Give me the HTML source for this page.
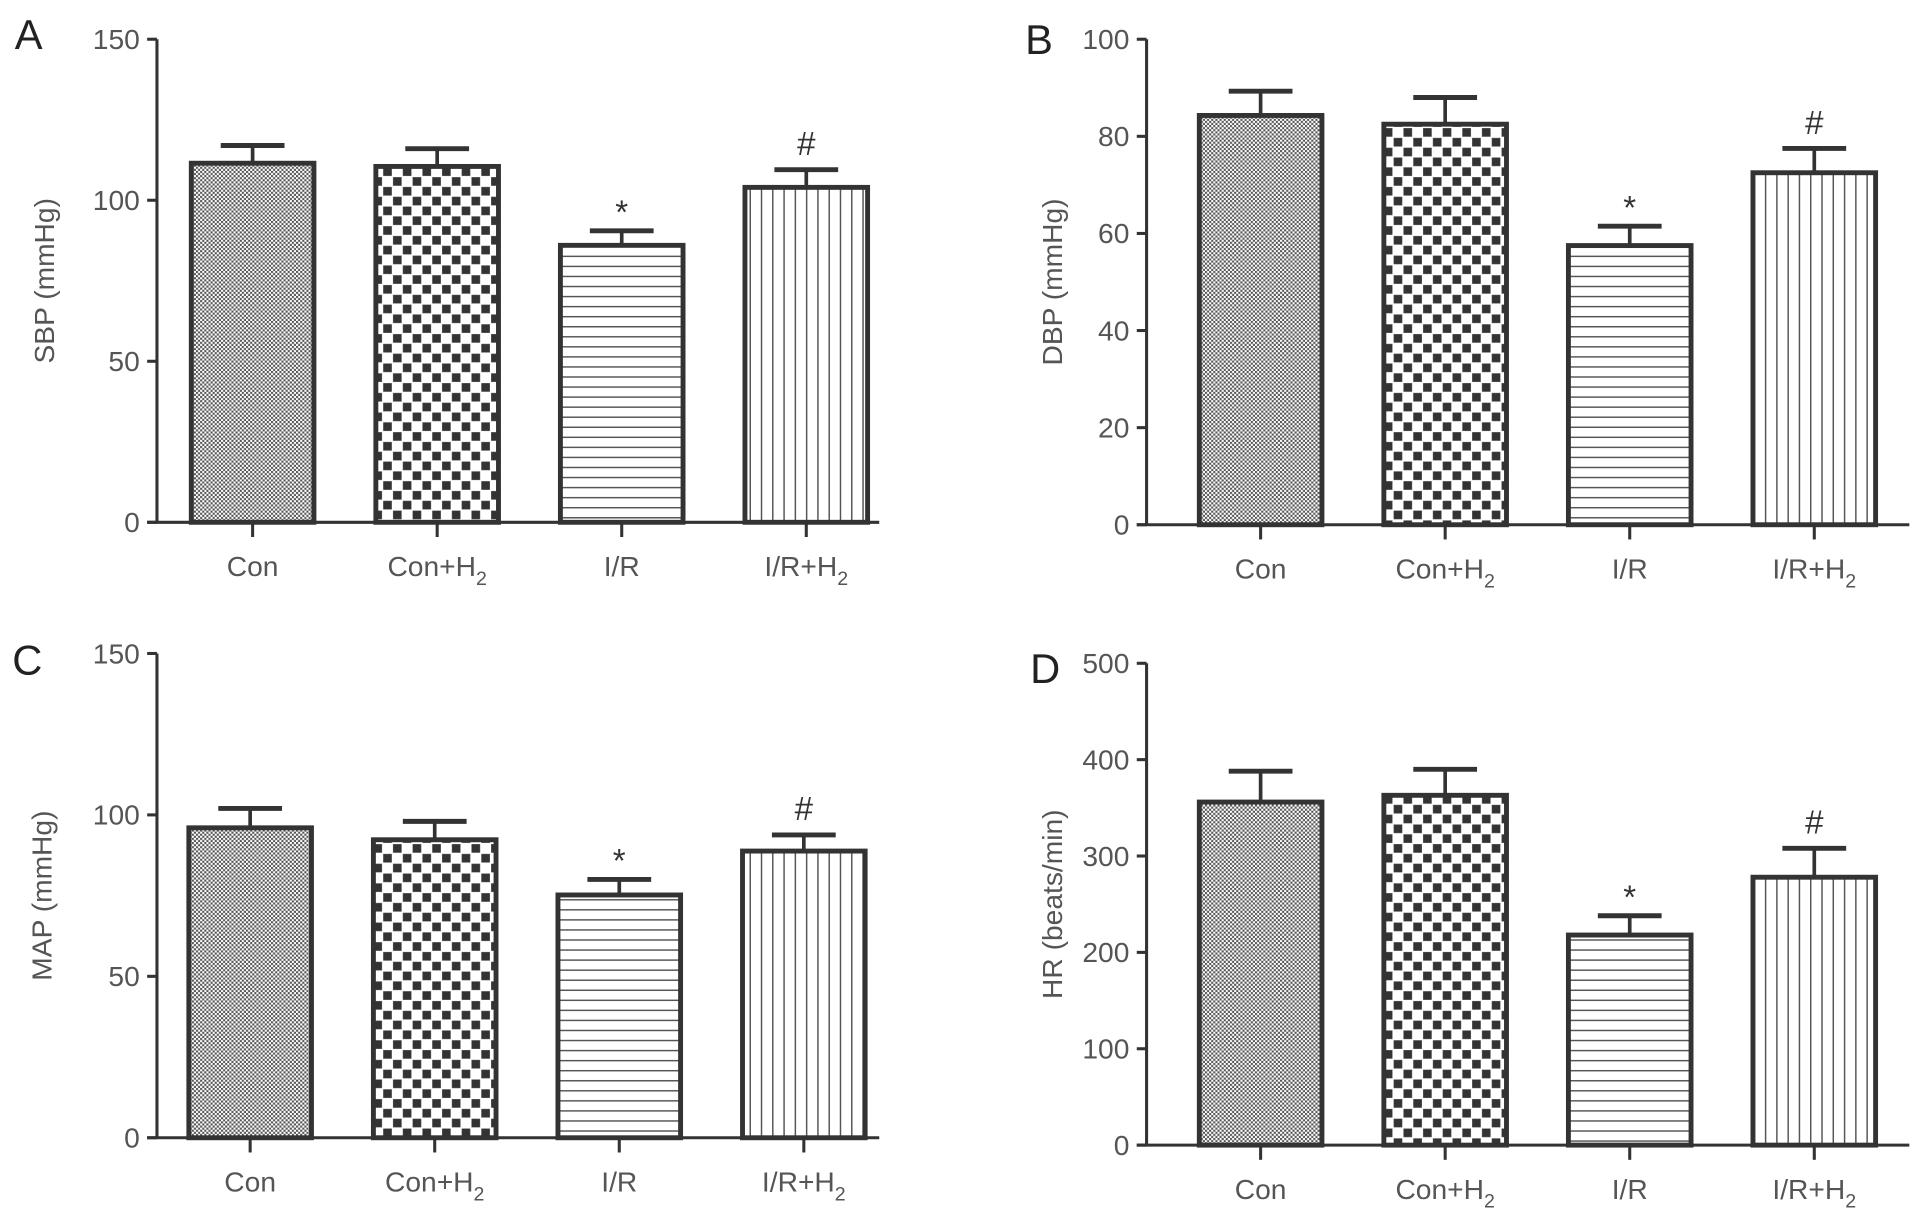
<!DOCTYPE html>
<html><head><meta charset="utf-8">
<style>
html,body{margin:0;padding:0;background:#fff;}
svg{display:block;}
text{font-family:"Liberation Sans",sans-serif;}
</style></head>
<body>
<svg id="chart" width="1913" height="1215" viewBox="0 0 1560 991" preserveAspectRatio="none" xmlns="http://www.w3.org/2000/svg">
<defs>
<pattern id="pDots" patternUnits="userSpaceOnUse" width="3.4" height="3.4">
<rect width="3.4" height="3.4" fill="#fff"/><rect x="0" y="0" width="1.7" height="1.7" fill="#555"/><rect x="1.7" y="1.7" width="1.7" height="1.7" fill="#555"/>
</pattern>
<pattern id="pCheck" patternUnits="userSpaceOnUse" width="16" height="16">
<rect width="16" height="16" fill="#fff"/><rect x="0.5" y="0.5" width="7" height="7" fill="#333"/><rect x="8.5" y="8.5" width="7" height="7" fill="#333"/>
</pattern>
<pattern id="pHoriz" patternUnits="userSpaceOnUse" width="8" height="8.2">
<rect width="8" height="8.2" fill="#fff"/><rect x="0" y="3.5" width="8" height="1.2" fill="#555"/>
</pattern>
<pattern id="pVert" patternUnits="userSpaceOnUse" width="9.2" height="8">
<rect width="9.2" height="8" fill="#fff"/><rect x="4" y="0" width="1.2" height="8" fill="#555"/>
</pattern>
</defs>
</svg>
<script>
const categories = ["Con", "Con+H", "I/R", "I/R+H"];
const sbpValues = [111.5, 110.5, 86, 104];
const sbpErrors = [117, 116, 90.5, 109.5];
const dbpValues = [84.3, 82.5, 57.5, 72.5];
const dbpErrors = [89.3, 88, 61.5, 77.5];
const mapValues = [96, 92.3, 75.2, 88.8];
const mapErrors = [102, 98, 80, 93.8];
const hrValues = [356, 363, 218, 278];
const hrErrors = [388, 390, 238, 308];
const sbpTicks = [0, 50, 100, 150];
const dbpTicks = [0, 20, 40, 60, 80, 100];
const mapTicks = [0, 50, 100, 150];
const hrTicks = [0, 100, 200, 300, 400, 500];
const sigMarks = ["", "", "*", "#"];

const NS = "http://www.w3.org/2000/svg";
const svg = document.getElementById("chart");
const fills = ["url(#pDots)", "url(#pCheck)", "url(#pHoriz)", "url(#pVert)"];
function mk(tag, attrs, parent) {
  const e = document.createElementNS(NS, tag);
  for (const k in attrs) e.setAttribute(k, attrs[k]);
  (parent || svg).appendChild(e);
  return e;
}
function panel(cfg) {
  const g = mk("g", {});
  
  
  const yMax = cfg.ticks[cfg.ticks.length - 1];
  const yS = v => cfg.y0 - (v / yMax) * (cfg.y0 - cfg.yTop);
  const xS = i => cfg.x0 + cfg.firstCenter + i * cfg.step;
  const L = mk("text", {x: cfg.letterX, y: cfg.letterY, "font-size": 34, fill: "#222"}, g);
  L.textContent = cfg.letter;
  
  
  const ya = mk("line", {x1: cfg.x0, y1: yS(yMax), x2: cfg.x0, y2: cfg.y0, stroke: "#333", "stroke-width": 2.5}, g);
  
  
  cfg.ticks.forEach(t => {
    mk("line", {x1: cfg.x0 - 8, y1: yS(t), x2: cfg.x0, y2: yS(t), stroke: "#333", "stroke-width": 2.5}, g);
    const tl = mk("text", {x: cfg.x0 - 14, y: yS(t) + 8, "font-size": 23, fill: "#555", "text-anchor": "end"}, g);
    tl.textContent = t;
    
    
  });
  const xa = mk("line", {x1: cfg.x0 - 8, y1: cfg.y0, x2: cfg.xEnd, y2: cfg.y0, stroke: "#333", "stroke-width": 2.5}, g);
  
  
  const yt = mk("text", {x: 0, y: 0, "font-size": 23, fill: "#555", "text-anchor": "middle", transform: `translate(${cfg.titleX},${(cfg.y0 + cfg.yTop) / 2}) rotate(-90)`}, g);
  yt.textContent = cfg.title;
  
  
  const bw = 100;
  cfg.values.forEach((v, i) => {
    const cx = xS(i);
    const top = yS(v);
    const eTop = yS(cfg.errors[i]);
    mk("line", {x1: cx, y1: cfg.y0, x2: cx, y2: cfg.y0 + 12, stroke: "#333", "stroke-width": 2.5}, g);
    const eb = mk("line", {x1: cx, y1: top, x2: cx, y2: eTop, stroke: "#333", "stroke-width": 3}, g);
    
    
    mk("line", {x1: cx - 26, y1: eTop, x2: cx + 26, y2: eTop, stroke: "#333", "stroke-width": 4}, g);
    const r = mk("rect", {x: cx - bw / 2, y: top, width: bw, height: cfg.y0 - top, fill: fills[i], stroke: "#333", "stroke-width": 4}, g);
    
    
    if (sigMarks[i]) {
      const s = mk("text", {x: cx, y: eTop - (sigMarks[i] === "*" ? 6 : 12), "font-size": 27, fill: "#333", "text-anchor": "middle"}, g);
      s.textContent = sigMarks[i];
      
      
    }
    const cl = mk("text", {x: cx, y: cfg.y0 + 44, "font-size": 23, fill: "#555", "text-anchor": "middle"}, g);
    cl.textContent = categories[i];
    if (categories[i].endsWith("H")) {
      const sub = document.createElementNS(NS, "tspan");
      sub.setAttribute("font-size", 16);
      sub.setAttribute("dy", 7);
      sub.textContent = "2";
      cl.appendChild(sub);
    }
    
    
  });
}
panel({id: "sbp", letter: "A", letterX: 12, letterY: 40, x0: 128, y0: 426, yTop: 32, xEnd: 717, firstCenter: 78, step: 150.5, ticks: sbpTicks, values: sbpValues, errors: sbpErrors, title: "SBP (mmHg)", titleX: 44});
panel({id: "dbp", letter: "B", letterX: 836, letterY: 44, x0: 935, y0: 428, yTop: 32, xEnd: 1557, firstCenter: 93, step: 150.5, ticks: dbpTicks, values: dbpValues, errors: dbpErrors, title: "DBP (mmHg)", titleX: 866});
panel({id: "map", letter: "C", letterX: 10, letterY: 550, x0: 128, y0: 928, yTop: 533, xEnd: 717, firstCenter: 76, step: 150.5, ticks: mapTicks, values: mapValues, errors: mapErrors, title: "MAP (mmHg)", titleX: 42});
panel({id: "hr", letter: "D", letterX: 840, letterY: 557, x0: 935, y0: 934, yTop: 541, xEnd: 1557, firstCenter: 93, step: 150.5, ticks: hrTicks, values: hrValues, errors: hrErrors, title: "HR (beats/min)", titleX: 866});
</script>
</body></html>
